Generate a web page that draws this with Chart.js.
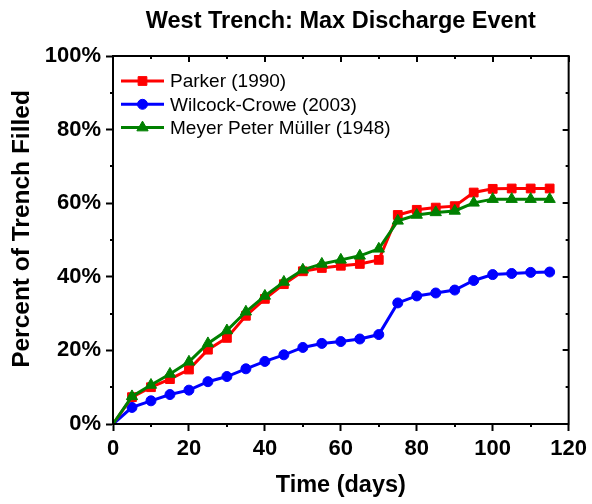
<!DOCTYPE html>
<html>
<head>
<meta charset="utf-8">
<script src="https://cdn.jsdelivr.net/npm/chart.js@4.4.0/dist/chart.umd.min.js"></script>
<style>
  html, body { margin: 0; padding: 0; background: #fff; }
</style>
</head>
<body>
<canvas id="trenchChart" width="592" height="504"></canvas>
<script>
const days = [0, 5, 10, 15, 20, 25, 30, 35, 40, 45, 50, 55, 60, 65, 70, 75, 80, 85, 90, 95, 100, 105, 110, 115];
const parker = [0, 7.3, 10.0, 12.2, 14.8, 20.2, 23.4, 29.4, 34.0, 38.0, 41.5, 42.4, 43.0, 43.5, 44.6, 56.8, 58.2, 58.8, 59.2, 62.9, 63.9, 64.0, 64.0, 64.0];
const wilcock = [0, 4.5, 6.3, 8.0, 9.2, 11.5, 12.9, 15.0, 17.0, 18.8, 20.8, 21.9, 22.4, 23.1, 24.3, 32.9, 34.8, 35.6, 36.4, 39.0, 40.6, 40.9, 41.2, 41.3];
const mpm = [0, 7.5, 10.6, 13.6, 16.9, 21.9, 25.4, 30.5, 34.8, 38.6, 41.9, 43.5, 44.6, 45.7, 47.6, 55.2, 56.8, 57.5, 57.9, 60.1, 61.1, 61.1, 61.1, 61.1];
const seriesNames = ['Parker (1990)', 'Wilcock-Crowe (2003)', 'Meyer Peter Müller (1948)'];
const xTicks = [0, 20, 40, 60, 80, 100, 120];
const yTicks = [0, 20, 40, 60, 80, 100];

const FONT = "'Liberation Sans', Arial, sans-serif";
const ctx = document.getElementById('trenchChart').getContext('2d');

function points(values) {
  return days.map((d, i) => ({ x: d, y: values[i] }));
}

function series(label, values, color, style, radius, order) {
  return {
    label,
    data: points(values),
    borderColor: color,
    backgroundColor: color,
    borderWidth: 3,
    pointStyle: style,
    pointRadius: c => (c.dataIndex === 0 ? 0 : radius),
    pointBorderWidth: 1,
    legendRadius: radius,
    tension: 0,
    clip: false,
    order
  };
}

// frame, mirrored ticks, minor ticks, titles
const framePlugin = {
  id: 'framePlugin',
  afterDraw(chart) {
    const { ctx, chartArea: a, scales: { x, y } } = chart;
    const xStep = (xTicks[1] - xTicks[0]) / 2;
    const yStep = (yTicks[1] - yTicks[0]) / 2;
    ctx.save();
    ctx.strokeStyle = '#000';
    ctx.lineWidth = 2;
    ctx.strokeRect(a.left, a.top, a.right - a.left, a.bottom - a.top);
    ctx.beginPath();
    for (let v = xTicks[0]; v <= xTicks[xTicks.length - 1]; v += xStep) {
      const px = Math.round(x.getPixelForValue(v));
      const major = xTicks.includes(v);
      ctx.moveTo(px, a.top);
      ctx.lineTo(px, a.top + (major ? 6 : 3));
      if (!major) {
        ctx.moveTo(px, a.bottom);
        ctx.lineTo(px, a.bottom + 3);
      }
    }
    for (let v = yTicks[0]; v <= yTicks[yTicks.length - 1]; v += yStep) {
      const py = Math.round(y.getPixelForValue(v));
      const major = yTicks.includes(v);
      ctx.moveTo(a.right, py);
      ctx.lineTo(a.right - (major ? 6 : 3), py);
      if (!major) {
        ctx.moveTo(a.left, py);
        ctx.lineTo(a.left - 3, py);
      }
    }
    ctx.stroke();

    ctx.fillStyle = '#000';
    ctx.textAlign = 'center';
    ctx.font = 'bold 23.5px ' + FONT;
    ctx.textBaseline = 'alphabetic';
    ctx.fillText('West Trench: Max Discharge Event', (a.left + a.right) / 2, 28);

    // y axis title
    ctx.save();
    ctx.translate(22, 229);
    ctx.rotate(-Math.PI / 2);
    ctx.font = 'bold 24.5px ' + FONT;
    ctx.textBaseline = 'middle';
    ctx.fillText('Percent of Trench Filled', 0, 0);
    ctx.restore();
    ctx.restore();
  }
};

// legend with line + marker, inside the plot
const lineLegend = {
  id: 'lineLegend',
  afterDatasetsDraw(chart) {
    const { ctx, chartArea: a } = chart;
    ctx.save();
    ctx.font = '19px ' + FONT;
    ctx.textBaseline = 'middle';
    ctx.textAlign = 'left';
    chart.data.datasets.forEach((ds, i) => {
      const yy = a.top + 25 + i * 23.3;
      const x0 = a.left + 8;
      const x1 = a.left + 51;
      ctx.strokeStyle = ds.borderColor;
      ctx.lineWidth = 3;
      ctx.beginPath();
      ctx.moveTo(x0, yy);
      ctx.lineTo(x1, yy);
      ctx.stroke();
      ctx.fillStyle = ds.backgroundColor;
      ctx.lineWidth = 1;
      Chart.helpers.drawPoint(ctx, { pointStyle: ds.pointStyle, radius: ds.legendRadius, rotation: 0, borderWidth: 1 }, (x0 + x1) / 2, yy);
      ctx.fillStyle = '#000';
      ctx.fillText(ds.label, a.left + 57, yy + 1);
    });
    ctx.restore();
  }
};

new Chart(ctx, {
  type: 'line',
  data: {
    datasets: [
      series(seriesNames[0], parker, '#ff0000', 'rect', 6.2, 1),
      series(seriesNames[1], wilcock, '#0000ff', 'circle', 5, 2),
      series(seriesNames[2], mpm, '#008000', 'triangle', 6.5, 0)
    ]
  },
  options: {
    responsive: false,
    animation: false,
    devicePixelRatio: 1,
    layout: { padding: { top: 56, right: 21, left: 0, bottom: 0 } },
    plugins: {
      legend: { display: false },
      tooltip: { enabled: false },
      title: { display: false }
    },
    scales: {
      x: {
        type: 'linear',
        min: 0,
        max: 120,
        afterFit: s => { s.height = 80; },
        afterBuildTicks: s => { s.ticks = xTicks.map(v => ({ value: v })); },
        border: { display: true, color: '#000', width: 2 },
        grid: { drawOnChartArea: false, color: '#000', tickLength: 7, tickWidth: 2 },
        ticks: { color: '#000', padding: 5, font: { family: FONT, size: 22, weight: 'bold' } },
        title: {
          display: true,
          text: 'Time (days)',
          color: '#000',
          padding: { top: 12 },
          font: { family: FONT, size: 23.5, weight: 'bold' }
        }
      },
      y: {
        min: 0,
        max: 100,
        afterFit: s => { s.width = 113; },
        afterBuildTicks: s => { s.ticks = yTicks.map(v => ({ value: v })); },
        border: { display: true, color: '#000', width: 2 },
        grid: { drawOnChartArea: false, color: '#000', tickLength: 7, tickWidth: 2 },
        ticks: {
          color: '#000',
          padding: 5,
          font: { family: FONT, size: 22, weight: 'bold' },
          callback: v => v + '%'
        }
      }
    }
  },
  plugins: [framePlugin, lineLegend]
});
</script>
</body>
</html>
